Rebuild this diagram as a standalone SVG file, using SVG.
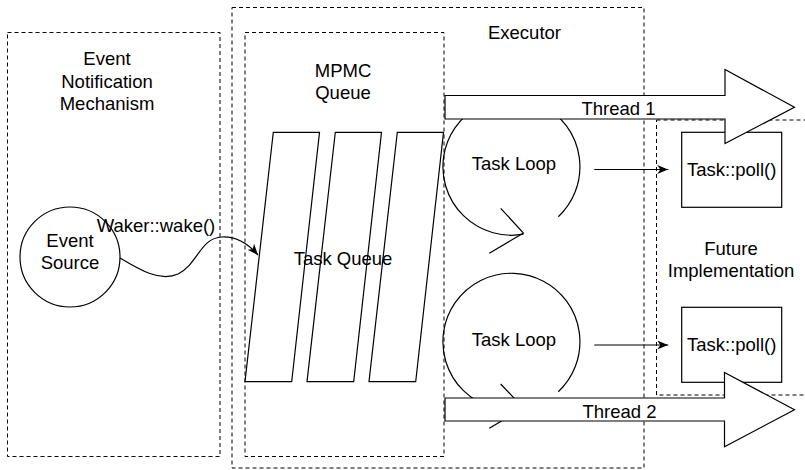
<svg xmlns="http://www.w3.org/2000/svg" width="805" height="470" viewBox="0 0 805 470">
  <style>
    .frame { fill: none; stroke: #000; stroke-width: 1; stroke-dasharray: 4 3; }
    .shape { fill: #fff; stroke: #000; stroke-width: 1.2; }
    .line { fill: none; stroke: #000; stroke-width: 1.2; }
    text { font-family: "Liberation Sans", Arial, sans-serif; font-size: 18.5px; fill: #000; text-anchor: middle; }
  </style>
  <defs>
    <marker id="arrow" viewBox="0 0 11 9" refX="11" refY="4.5" markerWidth="11" markerHeight="9" markerUnits="userSpaceOnUse" orient="auto">
      <path d="M0,0 L11,4.5 L0,9 L3,4.5 Z" fill="#000"/>
    </marker>
  </defs>

  <rect width="805" height="470" fill="#fff"/>

  <!-- Event notification side -->
  <g id="event-notification">
    <rect class="frame" x="7.5" y="32.5" width="212.5" height="424"/>
    <text x="107" y="65">Event</text>
    <text x="107" y="88">Notification</text>
    <text x="107" y="110">Mechanism</text>
  </g>

  <g id="event-source">
    <circle class="shape" cx="70" cy="257" r="50"/>
    <text x="70" y="247">Event</text>
    <text x="70" y="269">Source</text>
  </g>

  <!-- Executor container -->
  <g id="executor">
    <rect class="frame" x="232" y="7.5" width="412" height="460.5"/>
    <text x="524.5" y="39">Executor</text>
  </g>

  <!-- MPMC queue -->
  <g id="mpmc-queue">
    <rect class="frame" x="245" y="32.5" width="199" height="424"/>
    <text x="343" y="76.5">MPMC</text>
    <text x="343" y="98.5">Queue</text>
  </g>

  <g id="task-queue">
    <polygon class="shape" points="273.3,132.3 319.5,132.3 291.7,381.7 245,381.7"/>
    <polygon class="shape" points="335.3,132.3 381.5,132.3 353.7,381.7 307,381.7"/>
    <polygon class="shape" points="397.3,132.3 443.5,132.3 415.7,381.7 369,381.7"/>
    <text x="343" y="264.5">Task Queue</text>
  </g>

  <!-- Future implementation -->
  <g id="future-implementation">
    <rect class="frame" x="656.5" y="120" width="160" height="275"/>
    <text x="731" y="254.5">Future</text>
    <text x="731" y="276.5">Implementation</text>
  </g>

  <g id="poll-1">
    <rect class="shape" x="681.7" y="132.3" width="100" height="75"/>
    <text x="731.7" y="176.3">Task::poll()</text>
  </g>

  <g id="poll-2">
    <rect class="shape" x="681.7" y="307.3" width="100" height="75"/>
    <text x="731.7" y="351.3">Task::poll()</text>
  </g>

  <!-- Task loops (cycle shapes) -->
  <g id="task-loop-1">
    <path class="line" d="M558.3,216.7 A68.5,68.5 0 1 0 523.4,234.2"/>
    <path class="line" d="M500.7,208.3 L523.4,233 L489.3,253.3"/>
    <text x="514" y="169.6">Task Loop</text>
  </g>

  <g id="task-loop-2">
    <path class="line" d="M558.3,391.7 A68.5,68.5 0 1 0 523.4,409.2"/>
    <path class="line" d="M500.7,384 L523.4,408 L489.3,428.3"/>
    <text x="514" y="346">Task Loop</text>
  </g>

  <!-- Connectors -->
  <g id="connectors">
    <path class="line" d="M120,258 C140,270 160,282 178,274 C198,264 200,238 222,237 C238,236 250,246 258,255" marker-end="url(#arrow)"/>
    <text x="156" y="231.5">Waker::wake()</text>
    <path class="line" d="M594.3,169.5 H668.3" marker-end="url(#arrow)"/>
    <path class="line" d="M594.3,345 H668.3" marker-end="url(#arrow)"/>
  </g>

  <!-- Worker threads -->
  <g id="thread-1">
    <path class="shape" d="M445,95.5 H725 V69.5 L794.5,107.3 L725,143.5 V119 H445 Z"/>
    <text x="618.5" y="114.5">Thread 1</text>
  </g>

  <g id="thread-2">
    <path class="shape" d="M445,398 H724.5 V372.5 L794.5,409.7 L724.5,446.8 V421 H445 Z"/>
    <text x="619.5" y="417.5">Thread 2</text>
  </g>
</svg>
